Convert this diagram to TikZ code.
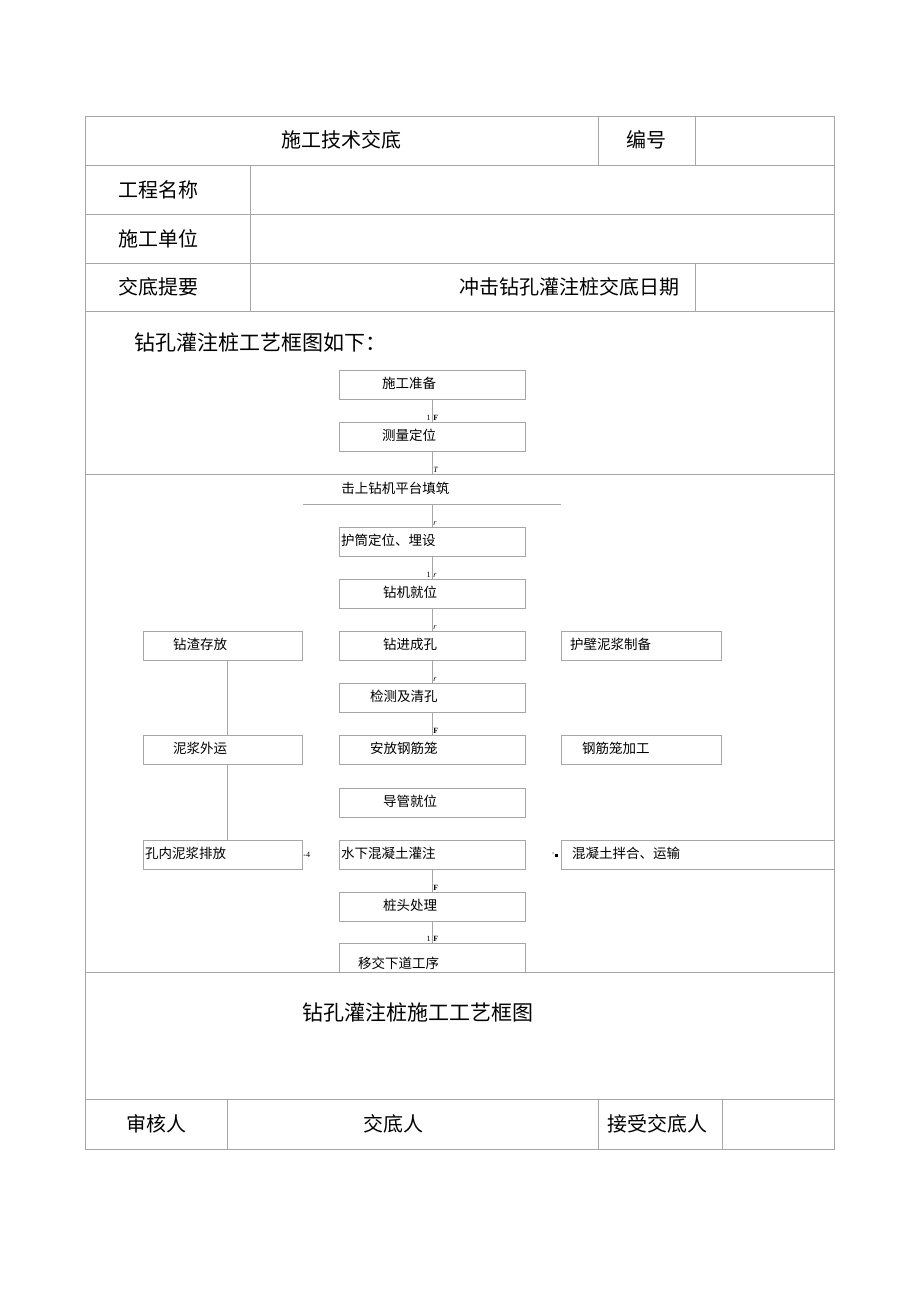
\documentclass[tikz,border=0pt]{standalone}
\usepackage{fontspec}
\setmainfont{Noto Sans CJK SC}
\newfontfamily\tipfont{Liberation Serif}
\begin{document}
\begin{tikzpicture}[x=1pt, y=-1pt, line width=0.8pt,
    rule/.style={draw=gray!70},
    link/.style={draw=gray!70},
    cell/.style={font=\fontsize{20}{22}\selectfont, inner sep=0pt},
    box/.style={draw=gray!70, minimum height=29pt, inner xsep=2pt, inner ysep=0pt,
        align=left, text height=0.88em, text depth=0.12em,
        font=\fontsize{13.5}{15}\selectfont},
    midbox/.style={box, text width=182pt},
    leftbox/.style={box, text width=155pt},
    rightbox/.style={box, text width=156pt},
    widebox/.style={box, text width=269pt},
    tip/.style={font=\tipfont\fontsize{8}{8}\selectfont, inner sep=0pt, anchor=south west}]
    \useasboundingbox (0,0) rectangle (920,1303);
    \fill[white] (0,0) rectangle (920,1303);
    \draw[rule] (85,116) rectangle (834,1149);
    \draw[rule] (85,165) -- (834,165);
    \draw[rule] (85,214) -- (834,214);
    \draw[rule] (85,263) -- (834,263);
    \draw[rule] (85,311) -- (834,311);
    \draw[rule] (85,474) -- (834,474);
    \draw[rule] (85,972) -- (834,972);
    \draw[rule] (85,1099) -- (834,1099);
    \draw[rule] (598,116) -- (598,165);
    \draw[rule] (695,116) -- (695,165);
    \draw[rule] (250,165) -- (250,311);
    \draw[rule] (695,263) -- (695,311);
    \draw[rule] (227,1099) -- (227,1149);
    \draw[rule] (598,1099) -- (598,1149);
    \draw[rule] (722,1099) -- (722,1149);
    \node [cell] (title) at (341.5,140) {施工技术交底};
    \node [cell] (numlbl) at (646,140) {编号};
    \node [cell] (projlbl) at (158,189.5) {工程名称};
    \node [cell] (unitlbl) at (158,238.5) {施工单位};
    \node [cell] (sumlbl) at (158,287) {交底提要};
    \node [cell, anchor=east] (datelbl) at (680,287) {冲击钻孔灌注桩交底日期};
    \node [cell, anchor=west, font=\fontsize{21}{24}\selectfont] (intro) at (134,342) {钻孔灌注桩工艺框图如下：};
    \node [cell, font=\fontsize{21}{24}\selectfont] (figcap) at (417.5,1012) {钻孔灌注桩施工工艺框图};
    \node [cell] (checklbl) at (156,1124) {审核人};
    \node [cell] (givelbl) at (393,1124) {交底人};
    \node [cell] (takelbl) at (657,1124) {接受交底人};
    \node [midbox] (prep) at (432,384.5) {\hspace*{41pt}施工准备};
    \node [midbox] (survey) at (432,436.5) {\hspace*{41pt}测量定位};
    \node [cell, anchor=west, font=\fontsize{13.5}{15}\selectfont] (platform) at (341,488) {击上钻机平台填筑};
    \draw[rule] (303,504) -- (561,504);
    \coordinate (rowtop) at (432,474);
    \coordinate (platbase) at (432,504);
    \node [midbox] (casing) at (432,541.5) {护筒定位、埋设};
    \node [midbox] (rig) at (432,593.5) {\hspace*{42pt}钻机就位};
    \node [midbox] (drill) at (432,645.5) {\hspace*{42pt}钻进成孔};
    \node [midbox] (clean) at (432,697.5) {\hspace*{29pt}检测及清孔};
    \node [midbox] (cage) at (432,750) {\hspace*{29pt}安放钢筋笼};
    \node [midbox] (tremie) at (432,802.5) {\hspace*{42pt}导管就位};
    \node [midbox] (pour) at (432,854.5) {水下混凝土灌注};
    \node [midbox] (head) at (432,906.5) {\hspace*{42pt}桩头处理};
    \node [midbox, text height=0.88em+14pt] (handover) at (432,957.5) {\hspace*{17pt}移交下道工序};
    \node [leftbox] (slag) at (222.5,645.5) {\hspace*{28pt}钻渣存放};
    \node [leftbox] (haul) at (222.5,750) {\hspace*{28pt}泥浆外运};
    \node [leftbox] (drain) at (222.5,854.5) {孔内泥浆排放};
    \node [rightbox] (slurry) at (641,645.5) {\hspace*{7pt}护壁泥浆制备};
    \node [rightbox] (cagework) at (641,750) {\hspace*{19pt}钢筋笼加工};
    \node [widebox] (mix) at (697.5,854.5) {\hspace*{9pt}混凝土拌合、运输};
    \draw[link] (prep) -- (survey);
    \draw[link] (survey) -- (rowtop);
    \draw[link] (platbase) -- (casing);
    \draw[link] (casing) -- (rig);
    \draw[link] (rig) -- (drill);
    \draw[link] (drill) -- (clean);
    \draw[link] (clean) -- (cage);
    \draw[link] (pour) -- (head);
    \draw[link] (head) -- (handover);
    \draw[link] ([xshift=4.5pt]slag.south) -- ([xshift=4.5pt]haul.north);
    \draw[link] ([xshift=4.5pt]haul.south) -- ([xshift=4.5pt]drain.north);
    \node [tip] (t1) at (433,421) {\textbf{F}};
    \node [tip, anchor=south east] (t1a) at (431,421) {1};
    \node [tip] (t2) at (433,473) {\textit{T}};
    \node [tip] (t3) at (433,526) {\textit{r}};
    \node [tip] (t4) at (433,578) {\textit{r}};
    \node [tip, anchor=south east] (t4a) at (431,578) {1};
    \node [tip] (t5) at (433,630) {\textit{r}};
    \node [tip] (t6) at (433,682) {\textit{r}};
    \node [tip] (t7) at (433,734) {\textbf{F}};
    \node [tip] (t8) at (433,891) {\textbf{F}};
    \node [tip] (t9) at (433,942) {\textbf{F}};
    \node [tip, anchor=south east] (t9a) at (431,942) {1};
    \node [tip, anchor=west] (t10) at (303,855) {-4};
    \fill (555,854) rectangle (558,857);
    \fill (553,853) circle (0.6);
\end{tikzpicture}
\end{document}
